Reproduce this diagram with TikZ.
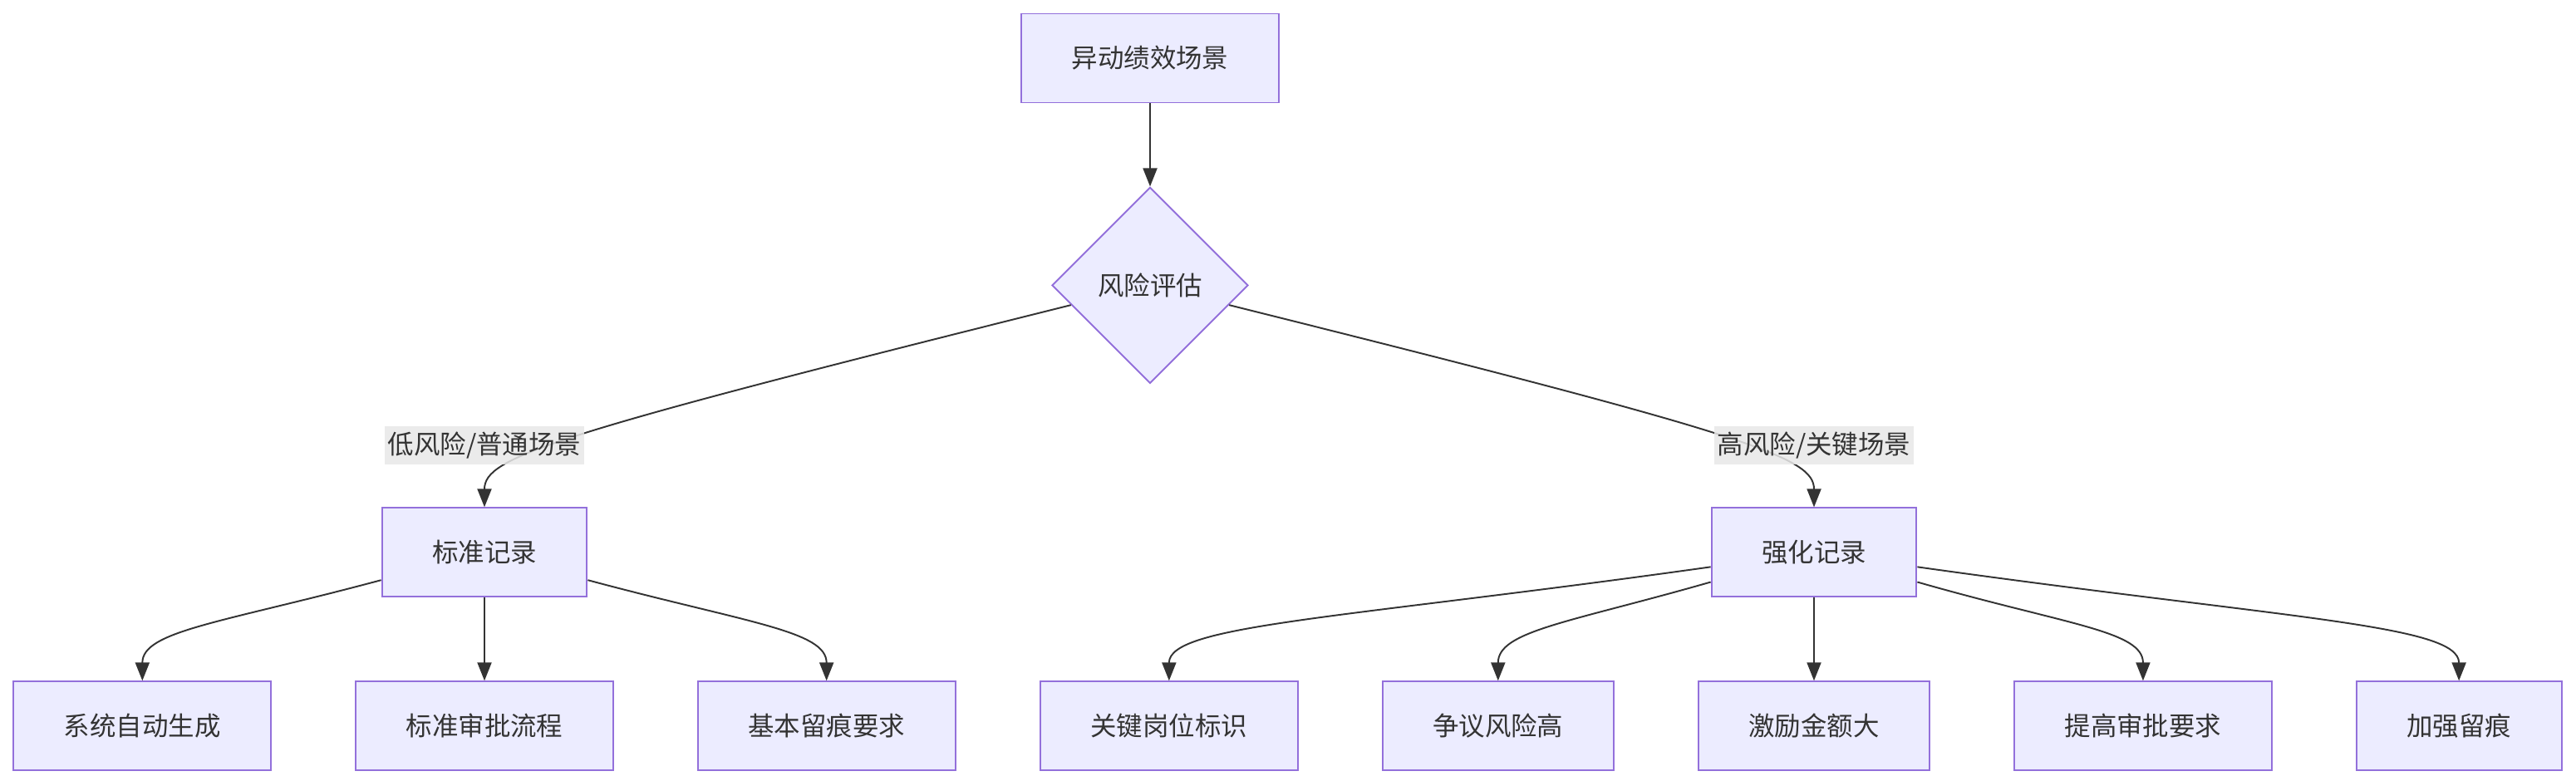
\documentclass[tikz,border=0pt]{standalone}
\usepackage{fontspec}
\setmainfont{Noto Sans CJK SC}
\usepackage{xcolor}
\usepackage{tikz}
\usetikzlibrary{positioning, arrows.meta, shapes.geometric}

\definecolor{boxfill}{HTML}{ECECFF}
\definecolor{boxline}{HTML}{9370DB}
\definecolor{inkgray}{HTML}{333333}
\definecolor{lblfill}{HTML}{E8E8E8}
\newcommand{\nodefont}{\fontsize{17.9pt}{21pt}\selectfont}

\begin{document}
\begin{tikzpicture}[
		node distance=2cm and 2cm,
		box/.style={rectangle, draw=boxline, line width=1.1pt, fill=boxfill, text=inkgray, minimum height=2.14cm, inner xsep=1.21cm, font=\nodefont},
		decision/.style={diamond, aspect=1, draw=boxline, line width=1.1pt, fill=boxfill, text=inkgray, minimum width=4.72cm, minimum height=4.72cm, inner sep=0pt, font=\nodefont},
		lbl/.style={rectangle, fill=lblfill, fill opacity=0.85, text opacity=1, text=inkgray, inner xsep=2pt, inner ysep=0pt, minimum height=0.92cm, font=\nodefont},
		arrow/.style={-{Triangle[length=0.44cm, width=0.34cm]}, draw=inkgray, line width=1.1pt}
		]

		\useasboundingbox (0,0) rectangle (62,-18.8);

		\node[box] (start) at (27.68,-1.40) {异动绩效场景};
		\node[decision, below=2cm of start] (risk) {风险评估};

		\node[box, below=2.96cm of risk, xshift=-16.02cm] (std) {标准记录};
		\node[box, below=2.96cm of risk, xshift=15.98cm] (strong) {强化记录};

		\node[box, below=of std] (stdflow) {标准审批流程};
		\node[box, left=of stdflow] (auto) {系统自动生成};
		\node[box, right=of stdflow] (basic) {基本留痕要求};

		\node[box, below=of strong] (bonus) {激励金额大};
		\node[box, left=of bonus] (dispute) {争议风险高};
		\node[box, left=of dispute] (keypos) {关键岗位标识};
		\node[box, right=of bonus] (approve) {提高审批要求};
		\node[box, right=of approve] (trace) {加强留痕};

		\draw[arrow] (start) -- (risk);
		\draw[arrow] (risk.194) .. controls +(194:13cm) and +(90:1.2cm) .. (std.north);
		\draw[arrow] (risk.346) .. controls +(346:13cm) and +(90:1.2cm) .. (strong.north);

		\draw[arrow] (std.195) .. controls +(195:4cm) and +(90:1.2cm) .. (auto.north);
		\draw[arrow] (std) -- (stdflow);
		\draw[arrow] (std.345) .. controls +(345:4cm) and +(90:1.2cm) .. (basic.north);

		\draw[arrow] (strong.188) .. controls +(188:9cm) and +(90:1.35cm) .. (keypos.north);
		\draw[arrow] (strong.196) .. controls +(196:3.55cm) and +(90:1.2cm) .. (dispute.north);
		\draw[arrow] (strong) -- (bonus);
		\draw[arrow] (strong.344) .. controls +(344:3.75cm) and +(90:1.2cm) .. (approve.north);
		\draw[arrow] (strong.352) .. controls +(352:9cm) and +(90:1.35cm) .. (trace.north);

		\node[lbl, above=1.02cm of std] (lowlbl) {低风险/普通场景};
		\node[lbl, above=1.02cm of strong] (highlbl) {高风险/关键场景};
	\end{tikzpicture}
\end{document}
